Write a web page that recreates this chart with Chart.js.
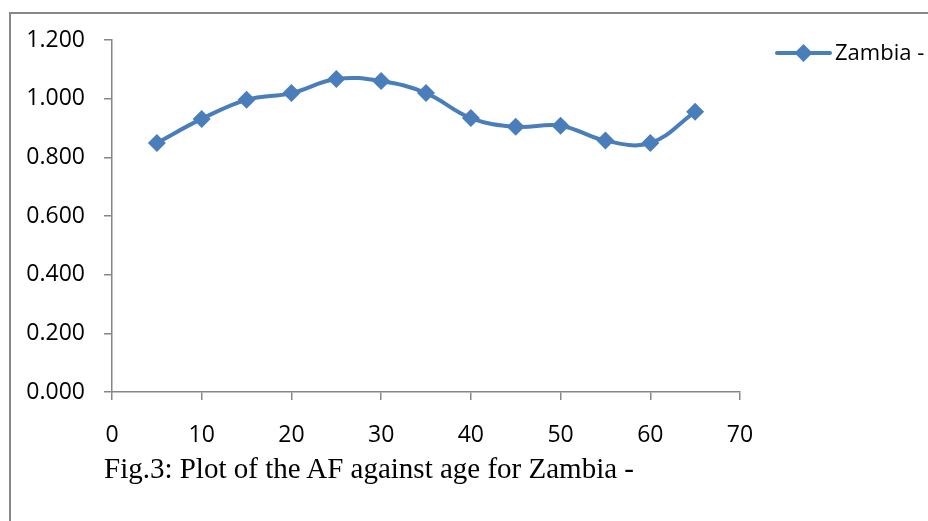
<!DOCTYPE html>
<html>
<head>
<meta charset="utf-8">
<script src="https://cdn.jsdelivr.net/npm/chart.js@4"></script>
<style>
  html, body { margin: 0; padding: 0; background: #fff; overflow: hidden; }
  #wrap { position: relative; width: 928px; height: 521px; }
  #frame { position: absolute; left: 9px; top: 12px; width: 1000px; height: 600px; border: 2px solid #878787; box-sizing: border-box; }
  #chart { position: absolute; left: 0; top: 0; }
  #caption { position: absolute; left: 104px; top: 452px; font-family: "Liberation Serif", "Times New Roman", serif; font-size: 29px; color: #000; white-space: nowrap; }
</style>
</head>
<body>
<div id="wrap">
  <div id="frame"></div>
  <canvas id="chart" width="928" height="521"></canvas>
  <div id="caption">Fig.3: Plot of the AF against age for Zambia -</div>
</div>
<script>
const ages = [5, 10, 15, 20, 25, 30, 35, 40, 45, 50, 55, 60, 65];
const afValues = [0.849, 0.931, 0.996, 1.019, 1.067, 1.060, 1.019, 0.934, 0.904, 0.908, 0.857, 0.849, 0.955];
const seriesName = "Zambia -";
const xTicks = [0, 10, 20, 30, 40, 50, 60, 70];
const yTicks = [0, 0.2, 0.4, 0.6, 0.8, 1.0, 1.2];

const lineColor = "#4A7EBB";
const axisColor = "#868686";
const tickFont = { family: "'Open Sans', sans-serif", size: 23 };

// legend drawn by hand: line + diamond + name, like Excel
const legendPlugin = {
  id: "excelLegend",
  afterDraw(c) {
    const ctx = c.ctx;
    const area = c.chartArea;
    const x0 = area.right + 37, x1 = area.right + 90, y = area.top + 13;
    ctx.save();
    ctx.strokeStyle = lineColor;
    ctx.lineWidth = 4;
    ctx.lineCap = "round";
    ctx.beginPath();
    ctx.moveTo(x0, y);
    ctx.lineTo(x1, y);
    ctx.stroke();
    const cx = (x0 + x1) / 2;
    ctx.fillStyle = lineColor;
    ctx.beginPath();
    ctx.moveTo(cx - 9, y);
    ctx.lineTo(cx, y - 9);
    ctx.lineTo(cx + 9, y);
    ctx.lineTo(cx, y + 9);
    ctx.closePath();
    ctx.fill();
    ctx.fillStyle = "#000";
    ctx.font = "22px 'Open Sans', sans-serif";
    ctx.textBaseline = "middle";
    ctx.fillText(seriesName, x1 + 5, y + 1);
    ctx.restore();
  }
};

new Chart(document.getElementById("chart"), {
  type: "line",
  data: {
    datasets: [{
      label: seriesName,
      data: ages.map((a, i) => ({ x: a, y: afValues[i] })),
      borderColor: lineColor,
      backgroundColor: lineColor,
      borderWidth: 4,
      tension: 0.4,
      pointStyle: "rectRot",
      pointRadius: 9,
      pointBorderWidth: 0,
      pointBackgroundColor: lineColor
    }]
  },
  options: {
    responsive: false,
    animation: false,
    layout: { padding: { top: 40, right: 188, left: 0, bottom: 0 } },
    plugins: { legend: { display: false }, tooltip: { enabled: false } },
    scales: {
      x: {
        type: "linear",
        min: 0,
        max: 70,
        afterBuildTicks: s => { s.ticks = xTicks.map(v => ({ value: v })); },
        afterFit: s => { s.height = 129; },
        grid: { drawOnChartArea: false, color: axisColor, tickLength: 8, lineWidth: 1.5 },
        border: { color: axisColor, width: 1.5 },
        ticks: { color: "#000", font: tickFont, padding: 22, maxRotation: 0 }
      },
      y: {
        min: 0,
        max: 1.2,
        afterBuildTicks: s => { s.ticks = yTicks.map(v => ({ value: v })); },
        afterFit: s => { s.width = 112; },
        grid: { drawOnChartArea: false, color: axisColor, tickLength: 8, lineWidth: 1.5 },
        border: { color: axisColor, width: 1.5 },
        ticks: { color: "#000", font: tickFont, padding: 19, callback: v => v.toFixed(3) }
      }
    }
  },
  plugins: [legendPlugin]
});
</script>
</body>
</html>
